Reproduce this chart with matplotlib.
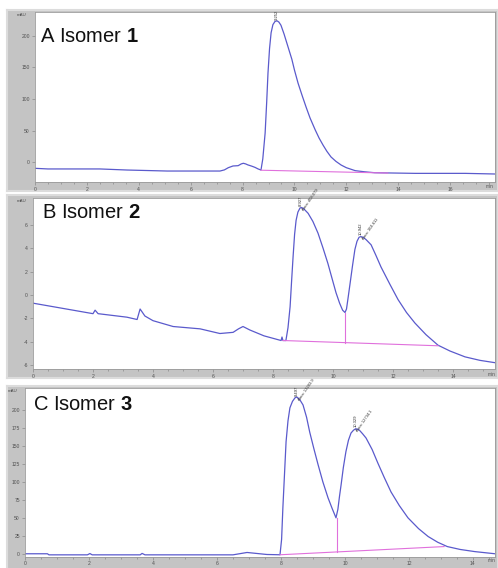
import matplotlib
matplotlib.use("Agg")
import matplotlib.pyplot as plt
from matplotlib.ticker import MultipleLocator

plt.rcParams['font.family'] = ['Liberation Sans', 'DejaVu Sans']
plt.rcParams['mathtext.fontset'] = 'custom'
plt.rcParams['mathtext.rm'] = 'Liberation Sans'
plt.rcParams['mathtext.bf'] = 'Liberation Sans:bold'

# ---------------- data ----------------
# Panel A : Isomer 1
a_time = [0.0, 0.5, 2.5, 3.55, 5.1, 7.13, 7.3, 7.45, 7.63, 7.83, 7.95, 8.03, 8.12,
          8.2, 8.35, 8.48, 8.6, 8.71, 8.78, 8.87, 8.93, 8.98, 9.04, 9.1, 9.17, 9.25,
          9.33, 9.4, 9.48, 9.6, 9.75, 9.9, 10.0, 10.14, 10.3, 10.45, 10.6, 10.8,
          10.95, 11.1, 11.25, 11.41, 11.6, 11.8, 12.0, 12.34, 12.7, 13.1, 14.65,
          16.58, 17.73]
a_signal = [-10, -11, -11, -12.7, -14.3, -14.3, -12.5, -9, -6.3, -5.8, -3, -2, -3,
            -4.5, -6.5, -8.5, -11, -12.7, 5, 46, 95, 141, 180, 205, 218, 223,
            224, 222, 217, 203, 183, 163, 146, 125, 105, 87, 70, 51,
            38, 27, 17, 8, 1, -4.8, -9, -13.7, -15.5, -17, -18,
            -18, -19]
a_base_time = [8.71, 13.6]
a_base_signal = [-13, -17.5]
a_drop_time = []
a_drop_signal = []
a_yticks = [0, 50, 100, 150, 200]
a_xticks = [0, 2, 4, 6, 8, 10, 12, 14, 16]
a_peak_labels = [(9.30, 226, "9.252", None)]

# Panel B : Isomer 2
b_time = [0.0, 2.0, 2.07, 2.17, 3.13, 3.47, 3.57, 3.73, 4.0, 4.67, 5.57, 6.23, 6.67,
          6.85, 7.0, 7.23, 7.7, 8.27, 8.3, 8.33, 8.43, 8.5, 8.57, 8.62, 8.67, 8.72,
          8.77, 8.83, 8.9, 8.95, 9.02, 9.17, 9.33, 9.5, 9.67, 9.83, 9.97, 10.1,
          10.22, 10.32, 10.4, 10.45, 10.5, 10.57, 10.65, 10.73, 10.8, 10.87, 10.93,
          11.0, 11.1, 11.27, 11.43, 11.6, 11.9, 12.17, 12.45, 12.73, 13.1, 13.5,
          13.9, 14.4, 14.9, 15.4]
b_signal = [-0.7, -1.6, -1.3, -1.6, -1.9, -2.1, -1.2, -1.8, -2.2, -2.7, -2.9, -3.3, -3.2,
            -2.9, -2.7, -3.0, -3.5, -3.9, -3.6, -3.9, -3.9, -2.8, -1.0, 1.2, 3.3, 5.2,
            6.4, 7.1, 7.45, 7.5, 7.4, 7.0, 6.3, 5.3, 4.0, 2.7, 1.4, 0.2,
            -0.7, -1.3, -1.5, -1.2, -0.3, 1.0, 2.5, 3.9, 4.6, 4.95, 5.0,
            4.95, 4.75, 4.3, 3.4, 2.4, 0.9, -0.4, -1.5, -2.4, -3.4, -4.3,
            -4.8, -5.3, -5.6, -5.8]
b_base_time = [8.33, 13.5]
b_base_signal = [-3.9, -4.35]
b_drop_time = [10.4, 10.4]
b_drop_signal = [-1.5, -4.1]
b_yticks = [-6, -4, -2, 0, 2, 4, 6]
b_xticks = [0, 2, 4, 6, 8, 10, 12, 14]
b_peak_labels = [(8.93, 7.6, "8.927", "Area: 408.079"),
                 (10.93, 5.1, "10.942", "Area: 304.611")]

# Panel C : Isomer 3
c_time = [0.0, 0.7, 0.75, 1.95, 2.03, 2.1, 3.6, 3.66, 3.75, 6.5, 6.94, 7.56, 7.97,
          8.02, 8.06, 8.11, 8.16, 8.22, 8.28, 8.36, 8.44, 8.5, 8.58, 8.69, 8.8, 8.9,
          9.03, 9.16, 9.31, 9.47, 9.6, 9.72, 9.78, 9.83, 9.88, 9.95, 10.03, 10.11,
          10.19, 10.27, 10.34, 10.45, 10.55, 10.66, 10.85, 11.03, 11.23, 11.44,
          11.7, 11.97, 12.3, 12.6, 12.9, 13.2, 13.6, 14.06, 14.69]
c_signal = [0, 0, -1.5, -1.5, 0.3, -1.5, -1.5, 0.5, -1.5, -1.5, 1.8, -1.0, -1.4,
            20, 64, 110, 156, 185, 203, 212, 217, 218, 215, 207, 190, 169,
            146, 124, 100, 78, 63, 50, 62, 80, 96, 120, 142, 158,
            168, 172, 174, 172, 167, 161, 145, 126, 106, 86,
            67, 50, 35, 24, 16, 10, 6, 3, 0]
c_base_time = [7.97, 13.1]
c_base_signal = [-1.4, 10]
c_drop_time = [9.75, 9.75]
c_drop_signal = [50, 2.6]
c_yticks = [0, 25, 50, 75, 100, 125, 150, 175, 200]
c_xticks = [0, 2, 4, 6, 8, 10, 12, 14]
c_peak_labels = [(8.5, 220, "8.497", "Area: 13283.9"),
                 (10.34, 176, "10.329", "Area: 12734.1")]

# ---------------- layout ----------------
W, H = 498, 568
fig = plt.figure(figsize=(W / 100, H / 100), dpi=100)
fig.patch.set_facecolor('white')


def box(x0, y0, x1, y1):
    return [x0 / W, 1 - y1 / H, (x1 - x0) / W, (y1 - y0) / H]


LINE = '#5a5acc'
BASE = '#e070dc'
STRIP = '#c4c4c4'


def panel(outer, inner, xlim, ylim, time, sig, bt, bs, dt, ds, yticks, xticks,
          title, title_xy, mau_xy, min_xy, peaks, xpad=1.2):
    bg = fig.add_axes(box(*outer))
    bg.set_facecolor(STRIP)
    bg.set_xticks([]); bg.set_yticks([])
    for s in bg.spines.values():
        s.set_color('#dcdcdc'); s.set_linewidth(1.5)
    ax = fig.add_axes(box(*inner))
    ax.set_facecolor('white')
    ax.plot(time, sig, color=LINE, lw=0.9)
    ax.plot(bt, bs, color=BASE, lw=0.8)
    if dt:
        ax.plot(dt, ds, color=BASE, lw=0.8)
    ax.set_xlim(*xlim); ax.set_ylim(*ylim)
    ax.set_xticks(xticks); ax.set_yticks(yticks)
    ax.set_xticklabels([str(v) for v in xticks])
    ax.set_yticklabels([str(v) for v in yticks])
    ax.xaxis.set_minor_locator(MultipleLocator(0.5))
    ax.tick_params(axis='both', which='both', labelsize=3.6, labelcolor='#505050',
                   color='#8a8a8a', width=0.5, pad=1.2)
    ax.tick_params(axis='x', which='both', pad=xpad)
    ax.tick_params(axis='both', which='major', length=2.5)
    ax.tick_params(axis='x', which='minor', length=1.5)
    for s in ax.spines.values():
        s.set_color('#9a9a9a'); s.set_linewidth(0.6)
    fig.text(title_xy[0] / W, 1 - title_xy[1] / H, title, fontsize=14.5,
             color='#111111', ha='left', va='baseline')
    fig.text(mau_xy[0] / W, 1 - mau_xy[1] / H, 'mAU', fontsize=3.2,
             color='#505050', ha='center', va='center')
    fig.text(min_xy[0] / W, 1 - min_xy[1] / H, 'min', fontsize=3.4,
             color='#505050', ha='center', va='center')
    for (px, py, rt, area) in peaks:
        ax.text(px, py, rt, fontsize=3, rotation=90, ha='center', va='bottom',
                color='#333333')
        if area:
            ax.annotate(area, (px, py), xytext=(2.5, -4), textcoords='offset points',
                        fontsize=3, rotation=55, ha='left', va='bottom',
                        color='#333333', rotation_mode='anchor')


panel((7, 10, 498, 191), (35, 12, 495, 182), (0, 17.73), (-31.7, 238),
      a_time, a_signal, a_base_time, a_base_signal, a_drop_time, a_drop_signal,
      a_yticks, a_xticks, r'A Isomer $\mathbf{1}$', (40, 42), (22, 15), (490, 186),
      a_peak_labels)

panel((7, 195, 498, 378), (33, 198, 495, 369), (0, 15.4), (-6.34, 8.31),
      b_time, b_signal, b_base_time, b_base_signal, b_drop_time, b_drop_signal,
      b_yticks, b_xticks, r'B Isomer $\mathbf{2}$', (42, 218), (22, 201), (492, 374),
      b_peak_labels)

panel((7, 386, 498, 572), (25, 388, 495, 557), (0, 14.69), (-4.5, 230.6),
      c_time, c_signal, c_base_time, c_base_signal, c_drop_time, c_drop_signal,
      c_yticks, c_xticks, r'C Isomer $\mathbf{3}$', (33, 410), (13, 391), (492, 561),
      c_peak_labels, xpad=0.6)

fig.savefig('out.png', dpi=100)
